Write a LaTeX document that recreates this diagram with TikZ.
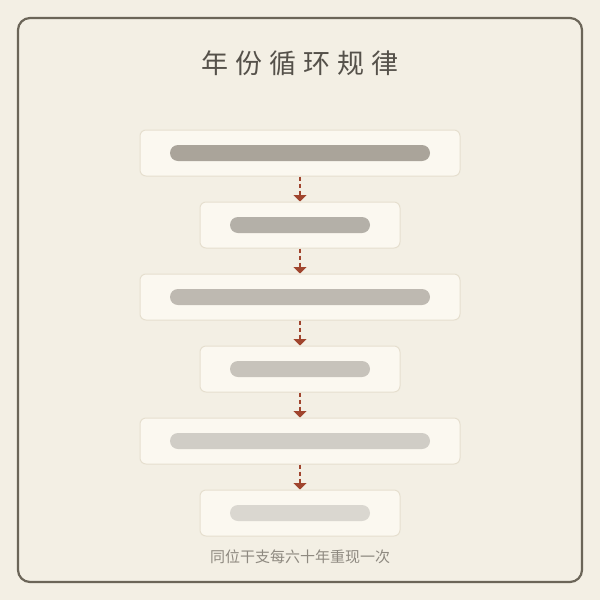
\documentclass[tikz,border=0pt]{standalone}
\usepackage{fontspec}
\newfontfamily\cjk{Noto Sans CJK SC}
\usetikzlibrary{arrows.meta}
\definecolor{bg}{HTML}{F3EFE4}
\definecolor{frame}{HTML}{6B6558}
\definecolor{boxfill}{HTML}{FBF8F0}
\definecolor{boxline}{HTML}{E6DFCF}
\definecolor{arr}{HTML}{A0452E}
\definecolor{titlec}{HTML}{55514A}
\definecolor{footc}{HTML}{8E8980}
\definecolor{barA}{HTML}{AAA49A}
\definecolor{barB}{HTML}{B4B0A8}
\definecolor{barC}{HTML}{BEB9B1}
\definecolor{barD}{HTML}{C7C3BB}
\definecolor{barE}{HTML}{D0CDC6}
\definecolor{barF}{HTML}{DAD7D0}
\tikzset{
  stepbox/.style={draw=boxline, line width=1pt, fill=boxfill, rounded corners=6pt, minimum height=46pt, inner sep=0pt},
  widebox/.style={stepbox, minimum width=320pt},
  narrowbox/.style={stepbox, minimum width=200pt},
  barshape/.style={rounded corners=8pt, minimum height=16pt, inner sep=0pt},
  widebar/.style={barshape, minimum width=260pt},
  narrowbar/.style={barshape, minimum width=140pt},
  flow/.style={draw=arr, line width=1.8pt, dash pattern=on 4pt off 3pt, -{Triangle[width=13pt,length=6.5pt]}, shorten >=0pt},
}
\newcommand{\tgap}{\hspace{7pt}}
\begin{document}
\begin{tikzpicture}[x=1pt,y=-1pt]
\useasboundingbox (0,0) rectangle (600,600);
\fill[bg] (0,0) rectangle (600,600);
\draw[frame, line width=2.2pt, rounded corners=12pt] (18,18) rectangle (582,582);
\node[text=titlec, font=\cjk\fontsize{27}{30}\selectfont] (title) at (300,63) {年\tgap 份\tgap 循\tgap 环\tgap 规\tgap 律};
\node[widebox] (b1) at (300,153) {};
\node[narrowbox] (b2) at (300,225) {};
\node[widebox] (b3) at (300,297) {};
\node[narrowbox] (b4) at (300,369) {};
\node[widebox] (b5) at (300,441) {};
\node[narrowbox] (b6) at (300,513) {};
\node[widebar, fill=barA] (r1) at (b1.center) {};
\node[narrowbar, fill=barB] (r2) at (b2.center) {};
\node[widebar, fill=barC] (r3) at (b3.center) {};
\node[narrowbar, fill=barD] (r4) at (b4.center) {};
\node[widebar, fill=barE] (r5) at (b5.center) {};
\node[narrowbar, fill=barF] (r6) at (b6.center) {};
\draw[flow] (b1.south) -- (b2.north);
\draw[flow] (b2.south) -- (b3.north);
\draw[flow] (b3.south) -- (b4.north);
\draw[flow] (b4.south) -- (b5.north);
\draw[flow] (b5.south) -- (b6.north);
\node[text=footc, font=\cjk\fontsize{15}{17}\selectfont] (foot) at (300,557) {同位干支每六十年重现一次};
\end{tikzpicture}
\end{document}
